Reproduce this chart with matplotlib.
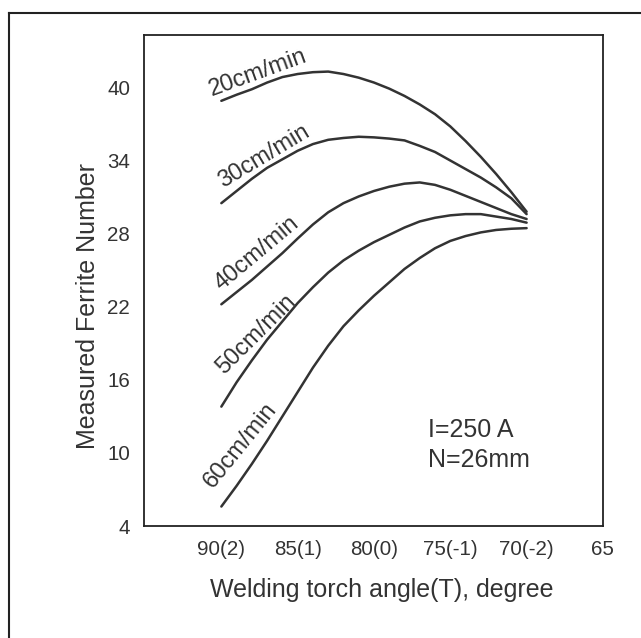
import matplotlib
matplotlib.use("Agg")
import matplotlib.pyplot as plt
from matplotlib.lines import Line2D

plt.rcParams['font.family'] = ['Liberation Sans', 'DejaVu Sans']

# Torch angle (degrees) at which ferrite number was measured
angles = [90, 89, 88, 87, 86, 85, 84, 83, 82, 81, 80, 79, 78, 77, 76, 75, 74, 73, 72, 71, 70]

# Measured ferrite number for each travel speed
fn_20 = [38.9, 39.4, 39.85, 40.4, 40.85, 41.1, 41.25, 41.3, 41.1, 40.8, 40.4,
         39.9, 39.3, 38.6, 37.8, 36.8, 35.6, 34.3, 32.9, 31.4, 29.8]
fn_30 = [30.5, 31.5, 32.5, 33.4, 34.1, 34.8, 35.35, 35.7, 35.85, 35.95, 35.9,
         35.8, 35.65, 35.2, 34.7, 34.0, 33.3, 32.6, 31.8, 30.9, 29.6]
fn_40 = [22.2, 23.2, 24.2, 25.3, 26.4, 27.6, 28.75, 29.75, 30.5, 31.05, 31.5,
         31.85, 32.1, 32.2, 32.0, 31.6, 31.1, 30.6, 30.1, 29.6, 29.2]
fn_50 = [13.8, 15.8, 17.6, 19.3, 20.8, 22.3, 23.6, 24.8, 25.8, 26.6, 27.3,
         27.9, 28.5, 29.0, 29.3, 29.5, 29.6, 29.6, 29.4, 29.2, 28.9]
fn_60 = [5.6, 7.3, 9.1, 11.0, 13.0, 15.0, 17.0, 18.8, 20.4, 21.7, 22.9,
         24.0, 25.1, 26.0, 26.8, 27.4, 27.8, 28.1, 28.3, 28.4, 28.45]

series = [fn_20, fn_30, fn_40, fn_50, fn_60]
speed_labels = ["20cm/min", "30cm/min", "40cm/min", "50cm/min", "60cm/min"]
label_x = [87.6, 87.2, 87.7, 87.7, 88.75]
label_y = [41.2, 34.3, 26.4, 19.7, 10.65]
label_rot = [20, 31, 40, 45, 51]

x_ticks = [90, 85, 80, 75, 70, 65]
x_tick_labels = ["90(2)", "85(1)", "80(0)", "75(-1)", "70(-2)", "65"]
y_ticks = [4, 10, 16, 22, 28, 34, 40]

ink = "#333333"

fig = plt.figure(figsize=(6.41, 6.38), dpi=100)
ax = fig.add_axes([0.2246, 0.1755, 0.716, 0.7696])

for vals in series:
    ax.plot(angles, vals, color=ink, lw=1.8, solid_capstyle='round')

for txt, lx, ly, rot in zip(speed_labels, label_x, label_y, label_rot):
    ax.text(lx, ly, txt, rotation=rot, rotation_mode='anchor',
            ha='center', va='center', fontsize=17, color=ink)

ax.text(76.45, 11.9, "I=250 A", ha='left', va='center', fontsize=18, color=ink)
ax.text(76.45, 9.4, "N=26mm", ha='left', va='center', fontsize=18, color=ink)

ax.set_xlim(95.07, 65)
ax.set_ylim(4, 44.3)
ax.set_xticks(x_ticks)
ax.set_xticklabels(x_tick_labels)
ax.set_yticks(y_ticks)
ax.tick_params(length=0, labelsize=14.8, colors=ink, pad=10)
for s in ax.spines.values():
    s.set_color("#222222")
    s.set_linewidth(1.3)

ax.set_xlabel("Welding torch angle(T), degree", fontsize=18, color=ink)
ax.set_ylabel("Measured Ferrite Number", fontsize=18, color=ink)
ax.xaxis.set_label_coords(0.518, -0.105)
ax.yaxis.set_label_coords(-0.095, 0.448)

# Outer frame (left and top edges)
fx = 9 / 641
fy = 1 - 13 / 638
fig.add_artist(Line2D([fx, fx], [0, fy], transform=fig.transFigure, color="#222222", lw=1.5))
fig.add_artist(Line2D([fx, 1], [fy, fy], transform=fig.transFigure, color="#222222", lw=1.5))

fig.savefig("out.png", dpi=100, facecolor="white")
